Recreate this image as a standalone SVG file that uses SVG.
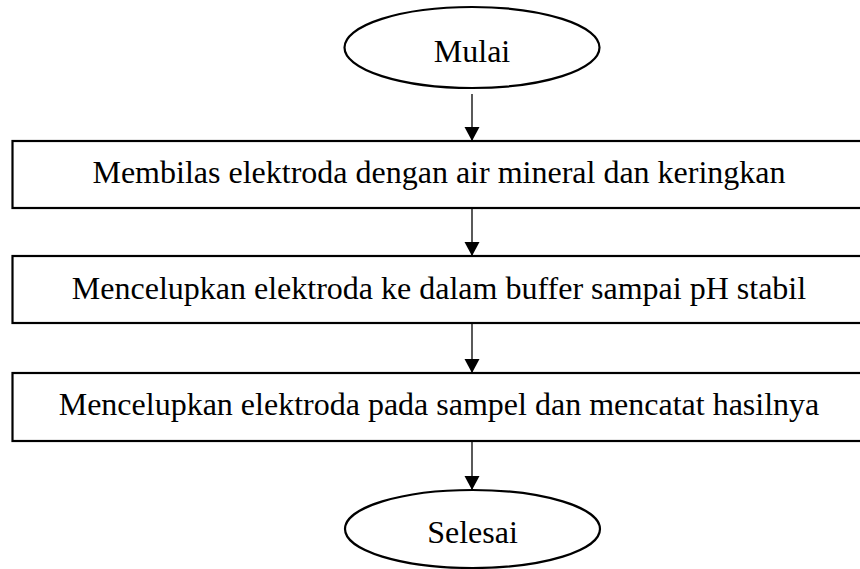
<svg xmlns="http://www.w3.org/2000/svg" width="860" height="569" viewBox="0 0 860 569">
<style>
.shape{fill:#fff;stroke:#000;stroke-width:2.2}
.t{font-family:"Liberation Serif","Times New Roman",serif;font-size:32px;fill:#000}
.c{stroke:#000;stroke-width:1.3;fill:none}
</style>
<defs>
<marker id="ah" markerUnits="userSpaceOnUse" markerWidth="16" markerHeight="16" refX="14" refY="7.5" orient="auto">
<path d="M0,0 L14,7.5 L0,15 Z" fill="#000"/>
</marker>
</defs>
<rect width="860" height="569" fill="#fff"/>
<g id="start">
<ellipse class="shape" cx="472" cy="47.5" rx="127.5" ry="40.5"/>
<text class="t" x="472" y="62" text-anchor="middle">Mulai</text>
</g>
<g id="step1">
<rect class="shape" x="12.5" y="141" width="860" height="67"/>
<text class="t" x="439" y="183" text-anchor="middle">Membilas elektroda dengan air mineral dan keringkan</text>
</g>
<g id="step2">
<rect class="shape" x="12.5" y="256" width="860" height="67"/>
<text class="t" x="439" y="299" text-anchor="middle">Mencelupkan elektroda ke dalam buffer sampai pH stabil</text>
</g>
<g id="step3">
<rect class="shape" x="12.5" y="373" width="860" height="68"/>
<text class="t" x="439" y="415" text-anchor="middle">Mencelupkan elektroda pada sampel dan mencatat hasilnya</text>
</g>
<g id="end">
<ellipse class="shape" cx="472.5" cy="529" rx="127.5" ry="39"/>
<text class="t" x="472.5" y="543" text-anchor="middle">Selesai</text>
</g>
<g id="connectors">
<line class="c" x1="472" y1="94" x2="472" y2="141" marker-end="url(#ah)"/>
<line class="c" x1="472" y1="208" x2="472" y2="256" marker-end="url(#ah)"/>
<line class="c" x1="472" y1="323" x2="472" y2="373" marker-end="url(#ah)"/>
<line class="c" x1="472" y1="441" x2="472" y2="490" marker-end="url(#ah)"/>
</g>
</svg>
